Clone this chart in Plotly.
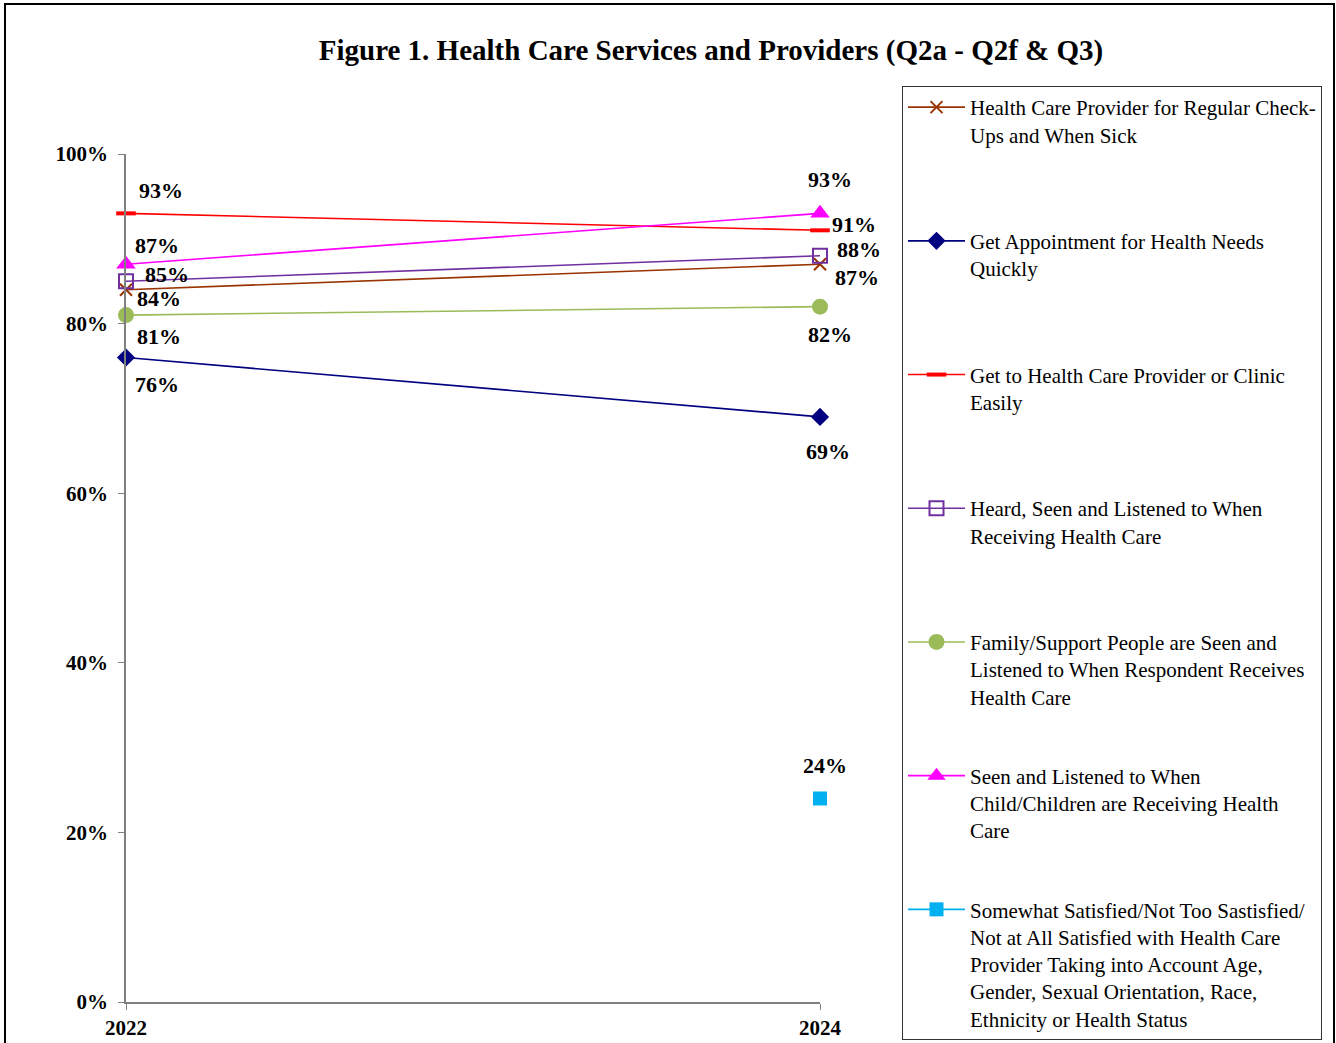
import plotly.graph_objects as go

# Survey years on the x axis
years = [2022, 2024]

# Series names (legend text, wrapped as in the report)
series_names = [
    "Health Care Provider for Regular Check-<br>Ups and When Sick",
    "Get Appointment for Health Needs<br>Quickly",
    "Get to Health Care Provider or Clinic<br>Easily",
    "Heard, Seen and Listened to When<br>Receiving Health Care",
    "Family/Support People are Seen and<br>Listened to When Respondent Receives<br>Health Care",
    "Seen and Listened to When<br>Child/Children are Receiving Health<br>Care",
    "Somewhat Satisfied/Not Too Sastisfied/<br>Not at All Satisfied with Health Care<br>Provider Taking into Account Age,<br>Gender, Sexual Orientation, Race,<br>Ethnicity or Health Status",
]

# Percentages per series (None = not asked that year)
regular_checkups = [84, 87]
appointment_quickly = [76, 69]
get_to_provider = [93, 91]
heard_seen = [85, 88]
family_support = [81, 82]
child_seen = [87, 93]
somewhat_satisfied = [None, 24]

series_values = [regular_checkups, appointment_quickly, get_to_provider,
                 heard_seen, family_support, child_seen, somewhat_satisfied]

# y-axis ticks
y_ticks = [0, 20, 40, 60, 80, 100]
y_tick_labels = ["0%", "20%", "40%", "60%", "80%", "100%"]

# Styling per series
colors = ["#993300", "#000080", "#FF0000", "#7030A0", "#9BBB59", "#FF00FF", "#00B0F0"]
symbols = ["x-thin", "diamond", "line-ew", "square-open", "circle", "triangle-up", "square"]
sizes = [12, 14, 14, 14, 16, 17, 14]

# Label offsets (px) from each point: (dx, dy) per year, dy positive = upward
label_offsets = [
    [(33, -9), (37, -13)],
    [(31, -27), (8, -35)],
    [(35, 23), (34, 6)],
    [(41, 7), (39, 6)],
    [(33, -21), (10, -28)],
    [(31, 19), (10, 34)],
    [(0, 0), (5, 33)],
]

SERIF = "Liberation Serif, Times New Roman, serif"
PAD_LINES = 4  # legend entries padded to equal height (longest keeps its own)

fig = go.Figure()

for i, (name, vals) in enumerate(zip(series_names, series_values)):
    n_lines = name.count("<br>") + 1
    legend_text = name + "<br>&nbsp;" * max(0, PAD_LINES - n_lines)
    sym = symbols[i]
    if sym == "line-ew":
        marker = dict(symbol=sym, size=sizes[i], color=colors[i],
                      line=dict(color=colors[i], width=4))
    elif sym in ("x-thin", "square-open"):
        marker = dict(symbol=sym, size=sizes[i], color=colors[i],
                      line=dict(color=colors[i], width=2))
    else:
        marker = dict(symbol=sym, size=sizes[i], color=colors[i],
                      line=dict(width=0))
    fig.add_trace(go.Scatter(
        x=years, y=vals, name=legend_text, mode="lines+markers",
        line=dict(color=colors[i], width=1.6),
        marker=marker, cliponaxis=False,
        legendgroup=f"g{i}",
    ))
    for j, v in enumerate(vals):
        if v is None:
            continue
        dx, dy = label_offsets[i][j]
        fig.add_annotation(
            x=years[j], y=v, text=f"<b>{v}%</b>", showarrow=False,
            xanchor="center", yanchor="middle", xshift=dx, yshift=dy,
            font=dict(family=SERIF, size=22, color="black"),
        )

# Outer chart frame
fig.add_shape(type="rect", xref="paper", yref="paper",
              x0=(5 - 126) / 694, x1=(1334 - 126) / 694,
              y0=(1002 - 1060) / 848, y1=(1002 - 4) / 848,
              line=dict(color="black", width=2), fillcolor="rgba(0,0,0,0)",
              layer="below")

fig.update_layout(
    width=1336, height=1043,
    margin=dict(l=126, r=516, t=154, b=41, autoexpand=False),
    paper_bgcolor="white", plot_bgcolor="white",
    title=dict(text="<b>Figure 1. Health Care Services and Providers (Q2a - Q2f & Q3)</b>",
               x=711 / 1336, xanchor="center", xref="container",
               y=1 - 50 / 1043, yanchor="middle", yref="container",
               font=dict(family=SERIF, size=29, color="black")),
    xaxis=dict(range=[2022, 2024], tickvals=years, ticktext=[f"<b>{y}</b>" for y in years],
               showgrid=False, zeroline=False, showline=True, linecolor="#808080",
               linewidth=1.5, ticks="outside", ticklen=6, tickcolor="#808080",
               ticklabelstandoff=0, automargin=False,
               tickfont=dict(family=SERIF, size=21, color="black")),
    yaxis=dict(range=[0, 100], tickvals=y_ticks,
               ticktext=[f"<b>{t}</b>" for t in y_tick_labels],
               showgrid=False, zeroline=False, showline=True, linecolor="#808080",
               linewidth=1.5, ticks="outside", ticklen=6, tickcolor="#808080",
               ticklabelstandoff=6, automargin=False,
               tickfont=dict(family=SERIF, size=21, color="black")),
    showlegend=True,
    legend=dict(x=(902 - 126) / 694, y=(1002 - 86) / 848, xanchor="left", yanchor="top",
                xref="paper", yref="paper",
                bgcolor="white", bordercolor="#333333", borderwidth=1,
                font=dict(family=SERIF, size=21, color="black"),
                traceorder="grouped", tracegroupgap=21.5, valign="top",
                itemwidth=57, maxheight=1000),
)

fig.write_html("out.html")
